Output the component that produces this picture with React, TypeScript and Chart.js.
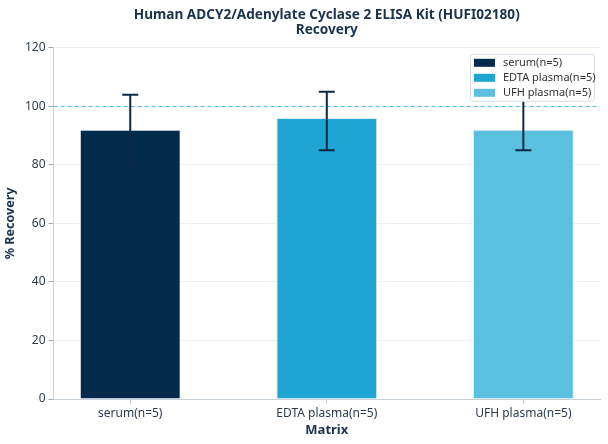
import React, { useEffect, useRef } from "react";
import { Chart, registerables } from "chart.js";

Chart.register(...registerables);

const categories = ["serum(n=5)", "EDTA plasma(n=5)", "UFH plasma(n=5)"];
const recovery = [92, 96, 92];
const errLow = [80, 85, 85];
const errHigh = [104, 105, 104];
const barColors = ["#022b4b", "#1fa5d3", "#5bc0e0"];
const yTicks = [0, 20, 40, 60, 80, 100, 120];
const referenceLine = 100;
const titleLines = ["Human ADCY2/Adenylate Cyclase 2 ELISA Kit (HUFI02180)", "Recovery"];

const FONT = "'Noto Sans', 'Open Sans', sans-serif";
const TEXT = "#2b3b4e";
const TITLE = "#1b324d";

const extrasPlugin = {
  id: "extras",
  afterDatasetsDraw(chart: any) {
    const { ctx, chartArea, scales } = chart;
    const x = scales.x;
    const y = scales.y;
    ctx.save();
    const ry = Math.round(y.getPixelForValue(referenceLine)) + 0.5;
    ctx.strokeStyle = "#4fc1e6";
    ctx.lineWidth = 1.2;
    ctx.setLineDash([4, 3]);
    ctx.beginPath();
    ctx.moveTo(chartArea.left, ry);
    ctx.lineTo(chartArea.right, ry);
    ctx.stroke();
    ctx.setLineDash([]);
    ctx.strokeStyle = "#0c2944";
    ctx.lineWidth = 2;
    for (let i = 0; i < categories.length; i++) {
      const cx = x.getPixelForValue(i);
      const yl = y.getPixelForValue(errLow[i]);
      const yh = y.getPixelForValue(errHigh[i]);
      ctx.beginPath();
      ctx.moveTo(cx, yl);
      ctx.lineTo(cx, yh);
      ctx.moveTo(cx - 8, yh);
      ctx.lineTo(cx + 8, yh);
      ctx.moveTo(cx - 8, yl);
      ctx.lineTo(cx + 8, yl);
      ctx.stroke();
    }
    ctx.restore();
  },
  afterDraw(chart: any) {
    const { ctx, chartArea } = chart;
    ctx.save();
    // title centred over the plot area
    const cx = (chartArea.left + chartArea.right) / 2;
    ctx.font = `bold 13.6px ${FONT}`;
    ctx.fillStyle = TITLE;
    ctx.textAlign = "center";
    ctx.textBaseline = "middle";
    titleLines.forEach((t, i) => ctx.fillText(t, cx, 15 + i * 15.5));
    ctx.textAlign = "left";
    // legend
    const w = 124;
    const h = 47;
    const bx = chartArea.right - w - 6;
    const by = chartArea.top + 6;
    ctx.fillStyle = "rgba(255,255,255,0.95)";
    ctx.strokeStyle = "#d6dee6";
    ctx.lineWidth = 1;
    ctx.beginPath();
    (ctx as any).roundRect(bx + 0.5, by + 0.5, w, h, 3);
    ctx.fill();
    ctx.stroke();
    ctx.font = `11px ${FONT}`;
    for (let i = 0; i < categories.length; i++) {
      const ry = by + 9 + i * 15;
      ctx.fillStyle = barColors[i];
      ctx.fillRect(bx + 4, ry - 4, 21, 8);
      ctx.fillStyle = "#333333";
      ctx.fillText(categories[i], bx + 33, ry);
    }
    ctx.restore();
  },
};

export default function App() {
  const ref = useRef<HTMLCanvasElement>(null);
  useEffect(() => {
    if (!ref.current) return;
    const chart = new Chart(ref.current, {
      type: "bar",
      data: {
        datasets: [
          {
            label: "Recovery",
            data: recovery.map((v, i) => ({ x: i, y: v })),
            backgroundColor: barColors,
            borderColor: "#e6ecf1",
            borderWidth: 1,
            barPercentage: 0.513,
            categoryPercentage: 1,
          },
        ],
      },
      options: {
        animation: false,
        responsive: true,
        maintainAspectRatio: false,
        layout: { padding: { left: 3, right: 8, top: 0, bottom: 6 } },
        plugins: {
          legend: { display: false },
          tooltip: { enabled: false },
          title: {
            display: true,
            text: titleLines,
            color: "rgba(0,0,0,0)",
            font: { family: FONT, size: 14, weight: "bold", lineHeight: 1.1 },
            padding: { top: 7, bottom: 10 },
          },
        },
        scales: {
          x: {
            type: "linear",
            min: -0.39,
            max: 2.39,
            offset: false,
            grid: { offset: false, drawOnChartArea: false, drawTicks: true, tickLength: 5, color: "#c9d2db" },
            border: { color: "#c9d2db" },
            afterBuildTicks: (axis: any) => {
              axis.ticks = categories.map((_, i) => ({ value: i }));
            },
            ticks: {
              includeBounds: false,
              stepSize: 1,
              autoSkip: false,
              maxRotation: 0,
              color: TEXT,
              font: { family: FONT, size: 12 },
              padding: 2,
              callback: (v: any) => categories[v as number] ?? "",
            },
            title: {
              display: true,
              text: "Matrix",
              color: TITLE,
              font: { family: FONT, size: 13, weight: "bold" },
              padding: { top: 0, bottom: 0 },
            },
          },
          y: {
            min: 0,
            max: 120,
            afterBuildTicks: (axis: any) => {
              axis.ticks = yTicks.map((v) => ({ value: v }));
            },
            grid: { color: "#edf1f5", tickColor: "#9aa8b6", tickLength: 5 },
            border: { color: "#c9d2db" },
            ticks: {
              color: TEXT,
              font: { family: FONT, size: 12 },
              padding: 3,
            },
            title: {
              display: true,
              text: "% Recovery",
              color: TITLE,
              font: { family: FONT, size: 12.5, weight: "bold" },
              padding: { top: 0, bottom: 4 },
            },
          },
        },
      } as any,
      plugins: [extrasPlugin],
    });
    return () => chart.destroy();
  }, []);
  return (
    <div style={{ position: "absolute", left: 0, top: 0, width: 608, height: 444, background: "#fff" }}>
      <canvas ref={ref} />
    </div>
  );
}
